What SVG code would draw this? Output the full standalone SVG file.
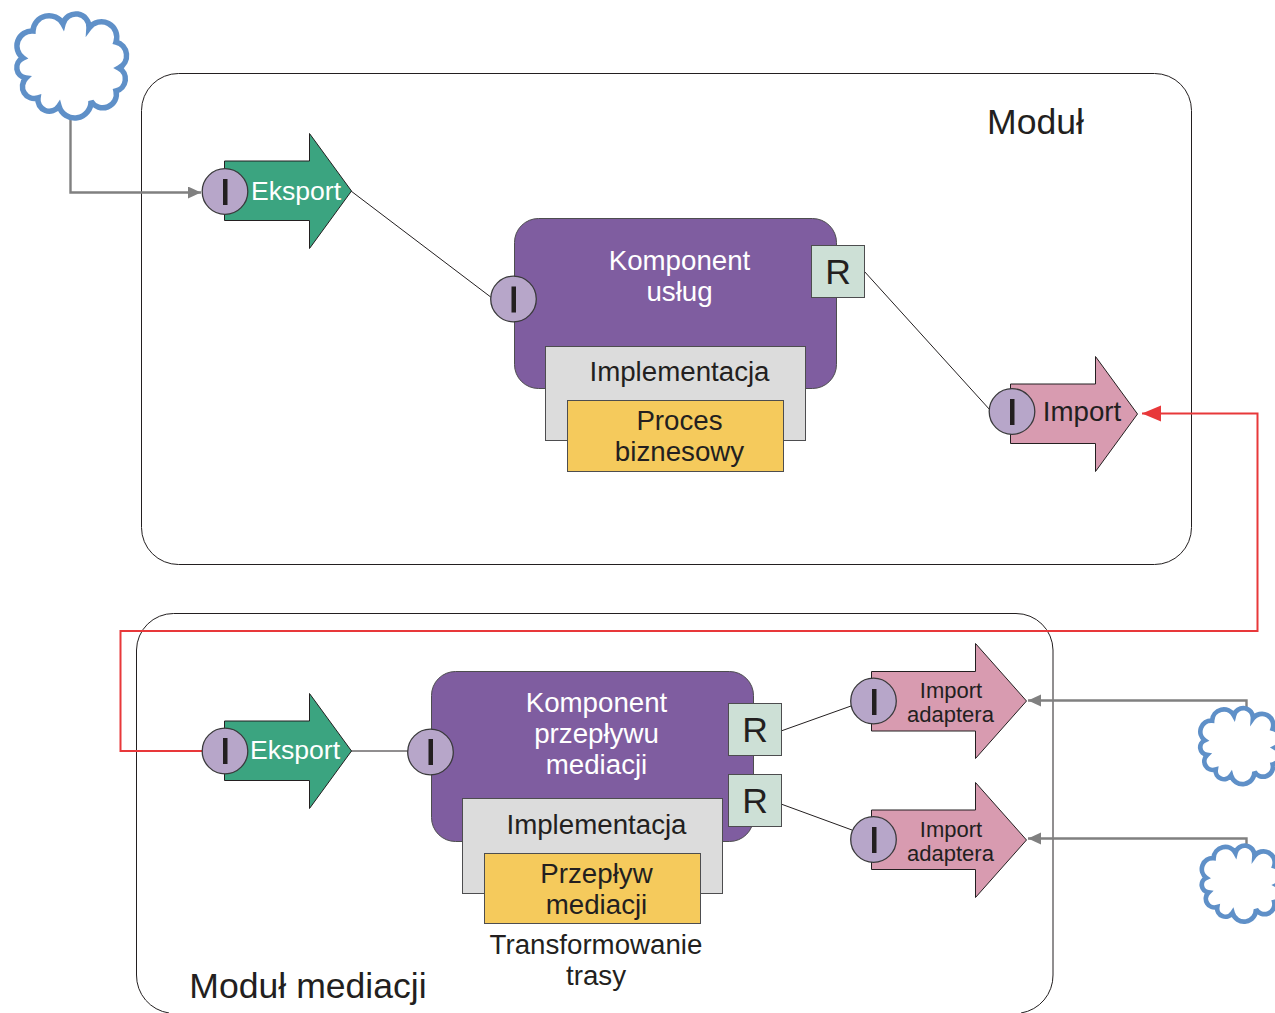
<svg xmlns="http://www.w3.org/2000/svg" width="1275" height="1013" viewBox="0 0 1275 1013">
<style>
text{font-family:"Liberation Sans",Arial,sans-serif;fill:#231f20;text-anchor:middle}
.w{fill:#fff}
.t27{font-size:27.7px}
.t26{font-size:26.6px}
.t35{font-size:35.6px}
.t22{font-size:22px}
.box{fill:none;stroke:#231f20;stroke-width:1}
.ci{fill:#b7a6c9;stroke:#3a3a3c;stroke-width:1.3}
.bar{fill:#231f20}
.r{fill:#cde0d6;stroke:#4d4d4f;stroke-width:1}
.exp{fill:#3ba480;stroke:#231f20;stroke-width:1}
.imp{fill:#d89bb0;stroke:#231f20;stroke-width:1}
.comp{fill:#7f5da0;stroke:#4d4d4f;stroke-width:1}
.impl{fill:#dcdcdc;stroke:#4d4d4f;stroke-width:1}
.pro{fill:#f5ca5c;stroke:#4d4d4f;stroke-width:1}
.cloud{fill:#fff;stroke:#5f90c8;stroke-width:5.500}
.small{stroke-width:6.500}
.thin{fill:none;stroke:#231f20;stroke-width:1}
.gr{fill:none;stroke:#808080;stroke-width:2.400}
.rd{fill:none;stroke:#e8383a;stroke-width:2}
</style>
<defs>
<path id="cl" d="M63 24A13.200 13.200 0 0 1 89 28A15.400 15.400 0 0 1 116 42A14 14 0 0 1 119 68A12.500 12.500 0 0 1 116 91A13.600 13.600 0 0 1 91 101A16.300 16.300 0 0 1 59 106A11.500 11.500 0 0 1 38 98A12 12 0 0 1 26 78A10.500 10.500 0 0 1 23 58A15 15 0 0 1 33 31A16 16 0 0 1 63 24Z"/>
<marker id="ag" markerUnits="userSpaceOnUse" markerWidth="14" markerHeight="14" refX="13" refY="6" orient="auto"><path d="M0 0L13 6L0 12Z" fill="#808080"/></marker>
<marker id="ar" markerUnits="userSpaceOnUse" markerWidth="20" markerHeight="18" refX="19" refY="8" orient="auto"><path d="M0 0L19 8L0 16Z" fill="#e8383a"/></marker>
</defs>

<g id="modul"><rect class="box" x="141.500" y="73.500" width="1050" height="491" rx="37"/><text class="t35" x="1035.500" y="134">Moduł</text></g>
<g id="modul-mediacji"><path class="box" d="M169 1013A38 38 0 0 1 136.500 975V650A37 37 0 0 1 173.500 613.500H1016A37 37 0 0 1 1053 650V975A38 38 0 0 1 1021 1013"/><text class="t35" x="308" y="998">Moduł mediacji</text></g>

<g id="connectors">
<path class="gr" d="M70.500 118V192.500H201" marker-end="url(#ag)"/>
<path class="gr" d="M1246.500 709V700.500H1028" marker-end="url(#ag)"/>
<path class="gr" d="M1246.500 847V838.500H1028" marker-end="url(#ag)"/>
<path class="rd" d="M203 751H120.500V631H1257.500V413.500H1142" marker-end="url(#ar)"/>
<path class="thin" d="M351 191L492 298M864 271L990 410M351 751H408M781 731L851 706M781 804L852 830"/>
</g>

<g id="cloud1"><use href="#cl" class="cloud"/></g>
<g id="cloud2"><use href="#cl" class="cloud small" transform="translate(1188 698) scale(.73)"/></g>
<g id="cloud3"><use href="#cl" class="cloud small" transform="translate(1189.500 835.500) scale(.73)"/></g>

<g id="eksport1"><path class="exp" d="M224.500 161H309.500V133.500L351.500 191L309.500 248.500V220.500H224.500Z"/><circle class="ci" cx="225" cy="191.500" r="22.800"/><rect class="bar" x="223" y="179" width="4.500" height="26"/><text class="w t26" x="296" y="200">Eksport</text></g>
<g id="komponent1"><rect class="comp" x="514.500" y="218.500" width="322" height="170" rx="24"/><text class="w t27" x="679.500" y="270">Komponent</text><text class="w t27" x="679.500" y="301">usług</text>
<circle class="ci" cx="513.500" cy="299" r="22.800"/><rect class="bar" x="511.500" y="286.500" width="4.500" height="26"/>
<rect class="r" x="811.500" y="245.500" width="53" height="52"/><text class="t35" x="838" y="284">R</text>
<rect class="impl" x="545.500" y="346.500" width="260" height="94"/><text class="t27" x="679.500" y="381">Implementacja</text>
<rect class="pro" x="567.500" y="400.500" width="216" height="71"/><text class="t27" x="679.500" y="430">Proces</text><text class="t27" x="679.500" y="461">biznesowy</text></g>
<g id="import1"><path class="imp" d="M1010.500 384H1095.500V356.500L1137.500 414L1095.500 471.500V443.500H1010.500Z"/><circle class="ci" cx="1012" cy="411.500" r="22.800"/><rect class="bar" x="1010" y="399" width="4.500" height="26"/><text class="t27" x="1082" y="421">Import</text></g>

<g id="eksport2"><path class="exp" d="M224.500 721H309.500V693.500L351.500 751L309.500 808.500V780.500H224.500Z"/><circle class="ci" cx="225" cy="751" r="22.800"/><rect class="bar" x="223" y="738" width="4.500" height="26"/><text class="w t26" x="295" y="759">Eksport</text></g>
<g id="komponent2"><rect class="comp" x="431.500" y="671.500" width="322" height="170" rx="24"/><text class="w t27" x="596.500" y="712">Komponent</text><text class="w t27" x="596.500" y="743">przepływu</text><text class="w t27" x="596.500" y="774">mediacji</text>
<circle class="ci" cx="430.500" cy="752" r="22.800"/><rect class="bar" x="428.500" y="739" width="4.500" height="26"/>
<rect class="r" x="728.500" y="703.500" width="53" height="52"/><text class="t35" x="755" y="742">R</text>
<rect class="impl" x="462.500" y="798.500" width="260" height="95"/><text class="t27" x="596.500" y="834">Implementacja</text>
<rect class="r" x="728.500" y="774.500" width="53" height="52"/><text class="t35" x="755" y="813">R</text>
<rect class="pro" x="484.500" y="853.500" width="216" height="70"/><text class="t27" x="596.500" y="883">Przepływ</text><text class="t27" x="596.500" y="914">mediacji</text>
<text class="t27" x="596" y="954">Transformowanie</text><text class="t27" x="596" y="985">trasy</text></g>
<g id="import2"><path class="imp" d="M871.500 671.500H975.500V643.500L1026.500 701L975.500 758.500V731H871.500Z"/><circle class="ci" cx="873.500" cy="701" r="22.800"/><rect class="bar" x="872" y="689" width="4.500" height="26"/><text class="t22" x="951" y="698">Import</text><text class="t22" x="950.500" y="722">adaptera</text></g>
<g id="import3"><path class="imp" d="M871.500 810H975.500V782.500L1026.500 840L975.500 897.500V869.500H871.500Z"/><circle class="ci" cx="873.500" cy="839.500" r="22.800"/><rect class="bar" x="872" y="827" width="4.500" height="26"/><text class="t22" x="951" y="837">Import</text><text class="t22" x="950.500" y="861">adaptera</text></g>
</svg>
